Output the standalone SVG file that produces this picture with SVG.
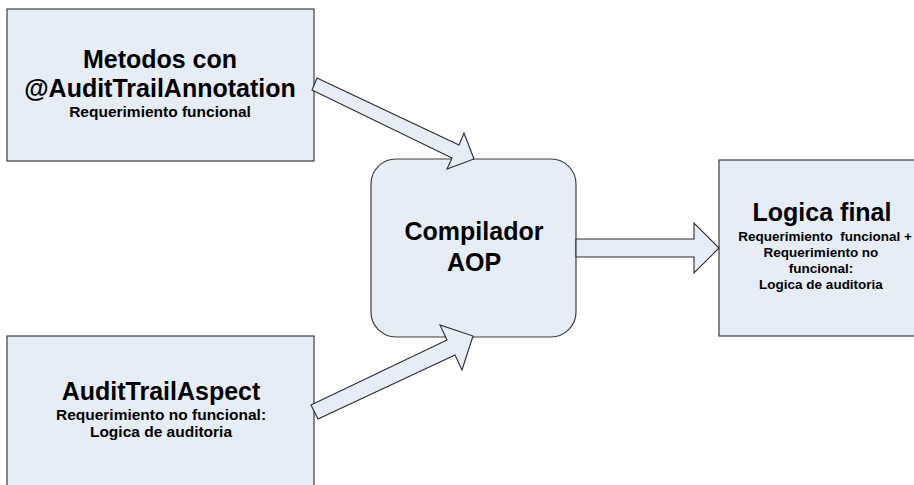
<svg xmlns="http://www.w3.org/2000/svg" width="914" height="485" viewBox="0 0 914 485">
<style>
.box{fill:#E7EDF6;stroke:#3C3C3C;stroke-width:1.2}
.arr{fill:#E7EDF6;stroke:#2A2A2A;stroke-width:1.1;stroke-linejoin:miter}
text{font-family:"Liberation Sans",Arial,sans-serif;font-weight:bold;fill:#000;text-anchor:middle}
.h{font-size:25px}
.s{font-size:15.5px}
.r{font-size:13.5px}
</style>
<rect width="914" height="485" fill="#fff"/>
<g id="metodos">
<rect class="box" x="7" y="9" width="307" height="152"/>
<text class="h" x="160" y="68">Metodos con</text>
<text class="h" x="160" y="97">@AuditTrailAnnotation</text>
<text class="s" x="160" y="117">Requerimiento funcional</text>
</g>
<g id="aspect">
<rect class="box" x="7" y="336" width="307" height="165"/>
<text class="h" x="161" y="400">AuditTrailAspect</text>
<text class="s" x="161" y="420">Requerimiento no funcional:</text>
<text class="s" x="161" y="437">Logica de auditoria</text>
</g>
<g id="compilador">
<rect class="box" x="371" y="159" width="205" height="178" rx="25" ry="25"/>
<text class="h" x="474" y="240">Compilador</text>
<text class="h" x="474" y="271">AOP</text>
</g>
<g id="logica">
<rect class="box" x="719" y="160" width="210" height="176"/>
<text class="h" x="822" y="221">Logica final</text>
<text class="r" x="825" y="241" xml:space="preserve">Requerimiento  funcional +</text>
<text class="r" x="821" y="257">Requerimiento no</text>
<text class="r" x="821" y="273">funcional:</text>
<text class="r" x="821" y="289">Logica de auditoria</text>
</g>
<g id="connectors">
<polygon class="arr" points="317,78 459,145 464,133 474,159 447,169 452,158 312,90"/>
<polygon class="arr" points="311,405 447,340 440,325 473,336 462,370 455,355 318,419"/>
<polygon class="arr" points="576,239 694,239 694,223 719,248 694,273 694,257 576,257"/>
</g>
</svg>
